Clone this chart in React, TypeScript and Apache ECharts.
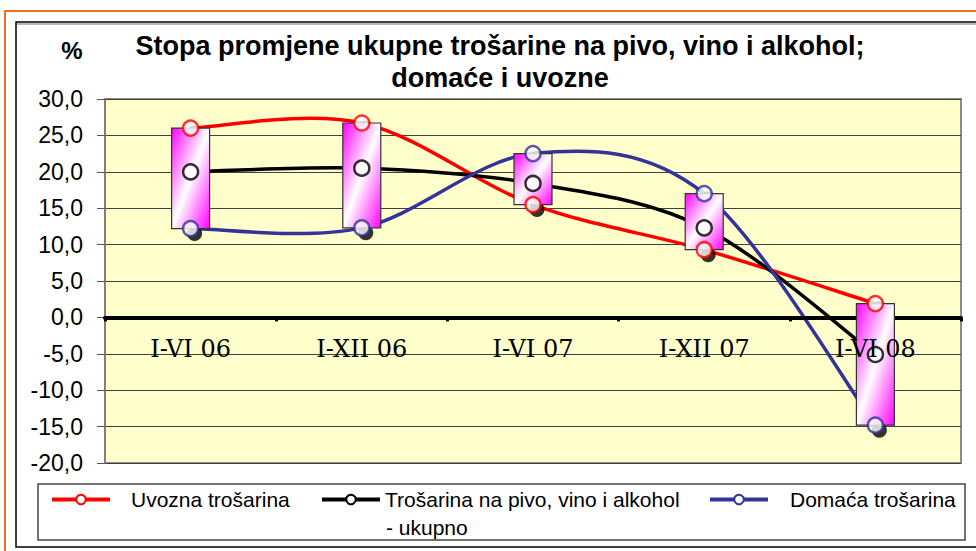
import React, { useEffect, useRef } from "react";
import * as echarts from "echarts";

const categories = ["I-VI 06", "I-XII 06", "I-VI 07", "I-XII 07", "I-VI 08"];
const uvozna = [26.0, 26.7, 15.5, 9.3, 1.9];
const ukupno = [20.0, 20.5, 18.4, 12.3, -5.1];
const domaca = [12.2, 12.3, 22.5, 17.0, -14.8];
const yTicks = { min: -20, max: 30, interval: 5 };

const NAME_UV = "Uvozna trošarina";
const NAME_UK = "Trošarina na pivo, vino i alkohol - ukupno";
const NAME_DO = "Domaća trošarina";

const RED = "#FF0000";
const BLACK = "#000000";
const BLUE = "#333399";

export default function App() {
  const ref = useRef<HTMLDivElement>(null);
  useEffect(() => {
    if (!ref.current) return;
    const chart = echarts.init(ref.current, null, { renderer: "svg" });
    const sans = "Liberation Sans, Arial, sans-serif";
    const grid = { left: 105, right: 15, top: 99, bottom: 88 };
    const gridHeight = 551 - grid.top - grid.bottom;
    const zeroOffset = -(gridHeight * (0 - yTicks.min)) / (yTicks.max - yTicks.min);

    const seriesDefs = [
      { name: NAME_UV, data: uvozna, color: RED },
      { name: NAME_UK, data: ukupno, color: BLACK },
      { name: NAME_DO, data: domaca, color: BLUE },
    ];

    // line series: used for the legend icons only (stroke width 0)
    const legendSeries = seriesDefs.map((s) => ({
      name: s.name,
      type: "line",
      data: s.data,
      showSymbol: false,
      symbol: "circle",
      z: 0,
      lineStyle: { color: s.color, width: 0 },
      itemStyle: { color: "#FFFFFF", borderColor: s.color, borderWidth: 2 },
      silent: true,
    }));

    // smoothed curves (Catmull-Rom style bezier between category points)
    const curveSeries = seriesDefs.map((s) => ({
      name: s.name + " curve",
      type: "custom",
      data: s.data.map((v, i) => [i, v]),
      encode: { x: 0, y: 1 },
      z: 1,
      silent: true,
      renderItem: (params: any, api: any) => {
        const i = params.dataIndex;
        const n = s.data.length;
        if (i >= n - 1) return null;
        const pt = (j: number) => {
          const k = Math.max(0, Math.min(n - 1, j));
          return api.coord([k, s.data[k]]);
        };
        const p0 = pt(i - 1);
        const p1 = pt(i);
        const p2 = pt(i + 1);
        const p3 = pt(i + 2);
        const t = 1 / 6;
        return {
          type: "bezierCurve",
          shape: {
            x1: p1[0],
            y1: p1[1],
            x2: p2[0],
            y2: p2[1],
            cpx1: p1[0] + (p2[0] - p0[0]) * t,
            cpy1: p1[1] + (p2[1] - p0[1]) * t,
            cpx2: p2[0] - (p3[0] - p1[0]) * t,
            cpy2: p2[1] - (p3[1] - p1[1]) * t,
          },
          style: { stroke: s.color, lineWidth: 3.5, fill: "none" },
        };
      },
    }));

    const shadowData: number[][] = [];
    seriesDefs.forEach((s) => s.data.forEach((v, i) => shadowData.push([i, v])));
    const shadowSeries = {
      name: "shadow",
      type: "scatter",
      data: shadowData,
      symbol: "circle",
      symbolSize: 15,
      symbolOffset: [4, 5],
      itemStyle: { color: "#000000" },
      z: 2,
      silent: true,
    };

    const boxData = categories.map((_, i) => [i, uvozna[i], domaca[i]]);
    const gradient = new echarts.graphic.LinearGradient(0, 0, 1, 1, [
      { offset: 0, color: "#FF00FF" },
      { offset: 0.5, color: "#FFFFFF" },
      { offset: 1, color: "#FF00FF" },
    ]);
    const boxSeries = {
      name: "bars",
      type: "custom",
      data: boxData,
      encode: { x: 0, y: [1, 2] },
      z: 3,
      silent: true,
      renderItem: (params: any, api: any) => {
        const p1 = api.coord([api.value(0), api.value(1)]);
        const p2 = api.coord([api.value(0), api.value(2)]);
        const w = 38;
        return {
          type: "rect",
          shape: {
            x: p1[0] - w / 2,
            y: Math.min(p1[1], p2[1]),
            width: w,
            height: Math.abs(p2[1] - p1[1]),
          },
          style: { fill: gradient, stroke: "#333333", lineWidth: 1.2 },
        };
      },
    };

    const markerSeries = seriesDefs.map((s) => ({
      name: s.name + " marker",
      type: "scatter",
      data: s.data.map((v, i) => [i, v]),
      symbol: "circle",
      symbolSize: 15,
      itemStyle: { color: "#FFFFFF", borderColor: s.color, borderWidth: 2.5 },
      z: 4,
      silent: true,
    }));

    const legendCommon = {
      orient: "horizontal",
      itemWidth: 58,
      itemHeight: 12,
      top: 484,
      selectedMode: false,
      lineStyle: { width: 4 },
      textStyle: { fontFamily: sans, fontSize: 21, color: "#000" },
    };

    chart.setOption({
      animation: false,
      backgroundColor: "#FFFFFF",
      title: {
        text: "Stopa promjene ukupne trošarine na pivo, vino i alkohol;\ndomaće i uvozne",
        left: 495,
        textAlign: "center",
        top: 25,
        textStyle: {
          fontFamily: sans,
          fontSize: 27,
          fontWeight: "bold",
          lineHeight: 32,
          color: "#000",
        },
      },
      legend: [
        { ...legendCommon, left: 45, data: [NAME_UV], textStyle: { ...legendCommon.textStyle, padding: [0, 0, 0, 16] } },
        {
          ...legendCommon,
          left: 315,
          data: [NAME_UK],
          formatter: () => "Trošarina na pivo, vino i alkohol",
        },
        { ...legendCommon, left: 703, data: [NAME_DO], textStyle: { ...legendCommon.textStyle, padding: [0, 0, 0, 17] } },
      ],
      grid: {
        ...grid,
        show: true,
        backgroundColor: "#FFFFCC",
        borderColor: "#8C8C8C",
        borderWidth: 2,
      },
      xAxis: [
        {
          type: "category",
          data: categories,
          boundaryGap: true,
          z: 1,
          axisLine: { show: true, onZero: true, lineStyle: { color: "#000", width: 4 } },
          axisTick: { show: true, length: 4, lineStyle: { color: "#000", width: 3 } },
          axisLabel: { show: false },
          splitLine: { show: false },
        },
        {
          type: "category",
          data: categories,
          boundaryGap: true,
          position: "bottom",
          offset: zeroOffset,
          z: 10,
          axisLine: { show: false, onZero: false },
          axisTick: { show: false },
          axisLabel: {
            show: true,
            margin: 20,
            fontFamily: "'DejaVu Serif', serif",
            fontSize: 24,
            color: "#000",
          },
          splitLine: { show: false },
        },
      ],
      yAxis: {
        type: "value",
        min: yTicks.min,
        max: yTicks.max,
        interval: yTicks.interval,
        axisLine: { show: true, lineStyle: { color: "#7F7F7F", width: 2 } },
        axisTick: { show: true, length: 8, lineStyle: { color: "#555", width: 1 } },
        axisLabel: {
          margin: 22,
          fontFamily: sans,
          fontSize: 23,
          color: "#000",
          formatter: (v: number) => v.toFixed(1).replace(".", ","),
        },
        splitLine: { show: true, lineStyle: { color: "#404040", width: 1 } },
      },
      graphic: [
        {
          type: "rect",
          shape: { x: 5, y: 11, width: 1000, height: 600 },
          style: { fill: "none", stroke: "#F37021", lineWidth: 2 },
          silent: true,
        },
        {
          type: "line",
          shape: { x1: 17, y1: 24, x2: 976, y2: 24 },
          style: { stroke: "#A0A0A0", lineWidth: 1.5 },
          silent: true,
        },
        {
          type: "rect",
          shape: { x: 16, y: 22, width: 1000, height: 525 },
          style: { fill: "none", stroke: "#000", lineWidth: 1.5 },
          silent: true,
        },
        {
          type: "rect",
          shape: { x: 38, y: 484, width: 927, height: 56 },
          style: { fill: "none", stroke: "#444", lineWidth: 1.5 },
          silent: true,
        },
        {
          type: "text",
          x: 72,
          y: 50,
          style: {
            text: "%",
            fontFamily: sans,
            fontSize: 24,
            fontWeight: "bold",
            fill: "#000",
            align: "center",
            verticalAlign: "middle",
          },
          silent: true,
        },
        {
          type: "text",
          x: 386,
          y: 527,
          style: {
            text: "- ukupno",
            fontFamily: sans,
            fontSize: 21,
            fill: "#000",
            align: "left",
            verticalAlign: "middle",
          },
          silent: true,
        },
      ],
      series: [...legendSeries, ...curveSeries, shadowSeries, boxSeries, ...markerSeries],
    });
    return () => chart.dispose();
  }, []);
  return (
    <div
      ref={ref}
      style={{ position: "fixed", left: 0, top: 0, width: 976, height: 551 }}
    />
  );
}
